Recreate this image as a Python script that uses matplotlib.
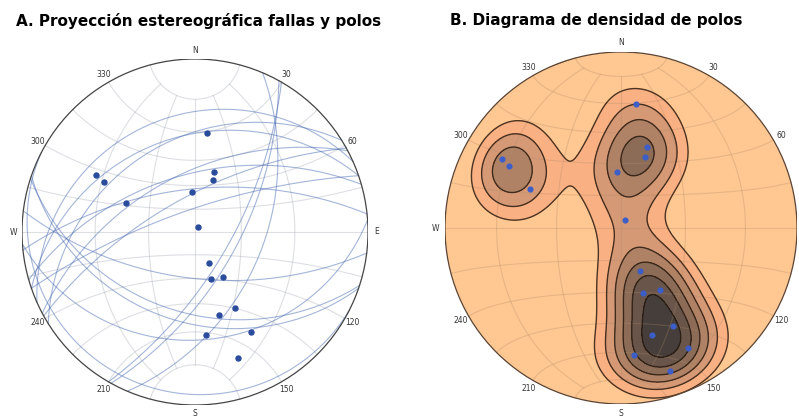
import numpy as np
import matplotlib
matplotlib.use('Agg')
import matplotlib.pyplot as plt
from matplotlib.patches import Circle

# Fault planes: strike / dip (right-hand rule)
strikes = [97, 30, 29, 23, 86, 108, 109, 117, 246, 238, 251, 242, 254, 241, 264, 251]
dips = [60, 67, 62, 47, 26, 40, 35, 4, 22, 34, 32, 53, 53, 67, 62, 75]

azimuths = [0, 30, 60, 90, 120, 150, 180, 210, 240, 270, 300, 330]
azimuth_labels = ['N', '30', '60', 'E', '120', '150', 'S', '210', '240', 'W', '300', '330']

title_a = 'A. Proyección estereográfica fallas y polos'
title_b = 'B. Diagrama de densidad de polos'

sigma = 1.5


def project(trend, plunge, kind):
    t = np.radians(trend)
    theta = np.radians(90 - np.asarray(plunge, dtype=float))
    if kind == 'area':
        r = np.sqrt(2) * np.sin(theta / 2)
    else:
        r = np.tan(theta / 2)
    return r * np.sin(t), r * np.cos(t)


def plane_line(strike, dip, n=361):
    a = np.radians(np.linspace(0, 180, n))
    s = np.radians(strike)
    d = np.radians(dip)
    sv = np.array([np.cos(s), np.sin(s), 0.0])
    dv = np.array([np.cos(d) * np.cos(s + np.pi / 2), np.cos(d) * np.sin(s + np.pi / 2), np.sin(d)])
    v = np.outer(np.cos(a), sv) + np.outer(np.sin(a), dv)
    plunge = np.degrees(np.arcsin(np.clip(v[:, 2], -1, 1)))
    trend = np.degrees(np.arctan2(v[:, 1], v[:, 0]))
    return trend, plunge


def native(lon, lat, kind):
    lon = np.radians(lon)
    lat = np.radians(lat)
    c = 1 + np.cos(lat) * np.cos(lon)
    k = 1 / np.sqrt(c) if kind == 'area' else 1 / c
    return k * np.cos(lat) * np.sin(lon), k * np.sin(lat)


def draw_grid(ax, kind, color, alpha):
    lon = np.linspace(-90, 90, 200)
    for lat in range(-75, 90, 15):
        x, y = native(lon, np.full_like(lon, lat), kind)
        ax.plot(x, y, color=color, lw=0.8, alpha=alpha, zorder=2)
    lat = np.linspace(-75, 75, 200)
    for lo in [-60, -30, 0, 30, 60]:
        x, y = native(np.full_like(lat, lo), lat, kind)
        ax.plot(x, y, color=color, lw=0.8, alpha=alpha, zorder=2)


def finish(ax, edge, skip=()):
    ax.add_patch(Circle((0, 0), 1, fill=False, ec=edge, lw=0.9, zorder=6))
    for az, lab in zip(azimuths, azimuth_labels):
        if lab in skip:
            continue
        a = np.radians(az)
        ax.text(1.052 * np.sin(a), 1.052 * np.cos(a), lab, fontsize=5.5, color='#333333',
                ha='center', va='center', clip_on=False)
    ax.set_xlim(-1, 1)
    ax.set_ylim(-1, 1)
    ax.set_aspect('equal')
    ax.axis('off')


pole_trend = np.array(strikes) - 90.0
pole_plunge = 90.0 - np.array(dips)

fig = plt.figure(figsize=(7.99, 4.17), dpi=100)

# --- A: equal-angle net with planes and poles
ax1 = fig.add_axes([22 / 799, (417 - 232 - 173) / 417, 346 / 799, 346 / 417])
draw_grid(ax1, 'angle', '#b4b8c2', 0.45)
for s, d in zip(strikes, dips):
    t, p = plane_line(s, d)
    x, y = project(t, p, 'angle')
    ax1.plot(x, y, color='#4a6cb3', lw=0.8, alpha=0.5, zorder=3)
px, py = project(pole_trend, pole_plunge, 'angle')
ax1.plot(px, py, 'o', color='#2a4c9c', ms=3.6, zorder=5)
finish(ax1, '#444444')

# --- B: equal-area net with pole density (exponential Kamb)
ax2 = fig.add_axes([445 / 799, (417 - 228 - 176) / 417, 352 / 799, 352 / 417])
g = np.linspace(-1.0, 1.0, 301)
X, Y = np.meshgrid(g, g)
R = np.hypot(X, Y)
theta = 2 * np.arcsin(np.clip(R / np.sqrt(2), 0, 1))
tr = np.arctan2(X, Y)
cx = np.sin(theta) * np.cos(tr)
cy = np.sin(theta) * np.sin(tr)
cz = np.cos(theta)
pt = np.radians(pole_trend)
pp = np.radians(pole_plunge)
vx = np.cos(pp) * np.cos(pt)
vy = np.cos(pp) * np.sin(pt)
vz = np.sin(pp)
n = len(strikes)
f = 2 * (1 + n / sigma ** 2)
units = np.sqrt(n * (f / 2 - 1) / f ** 2)
cosd = np.abs(cx[..., None] * vx + cy[..., None] * vy + cz[..., None] * vz)
Z = (np.exp(f * (cosd - 1)).sum(-1) - 0.5) / units
Z[Z < 0] = 0

clip = Circle((0, 0), 1, transform=ax2.transData)
cf = ax2.contourf(X, Y, Z, cmap='copper_r', alpha=0.8, zorder=1)
cf.set_clip_path(clip)
cl = ax2.contour(X, Y, Z, levels=cf.levels[1:], colors='#2e2016', linewidths=1.0, alpha=0.85, zorder=3)
cl.set_clip_path(clip)
draw_grid(ax2, 'area', '#b08a6a', 0.3)
qx, qy = project(pole_trend, pole_plunge, 'area')
ax2.plot(qx, qy, 'o', color='#3b5ec8', ms=3.4, zorder=5)
finish(ax2, '#5a4434', skip=('E',))

fig.text(199 / 799, 1 - 21 / 417, title_a, fontsize=11, fontweight='bold', ha='center', va='center')
fig.text(596 / 799, 1 - 21 / 417, title_b, fontsize=11, fontweight='bold', ha='center', va='center')

fig.savefig('out.png', dpi=100)
